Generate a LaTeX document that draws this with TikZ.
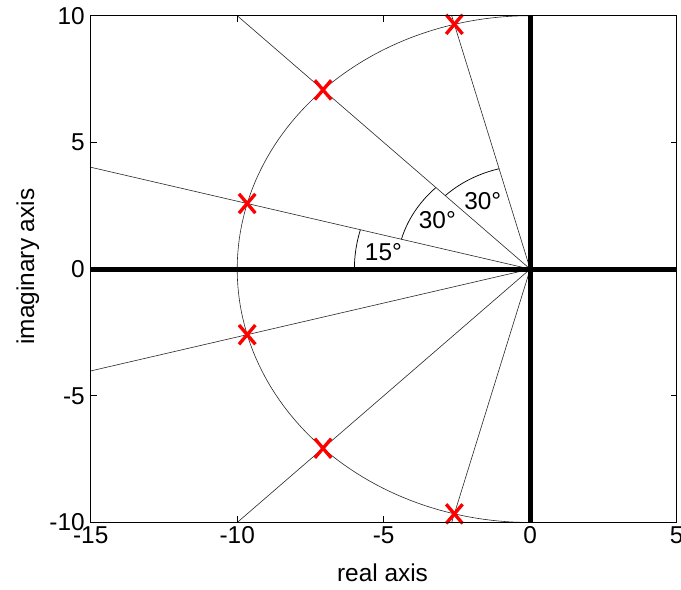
\documentclass[tikz,border=0pt]{standalone}
\usepackage{fontspec}
\setmainfont{Liberation Sans}
\usetikzlibrary{calc}

\begin{document}
\begin{tikzpicture}[
  x=21.98pt,y=19.01pt,
  ray/.style={line width=0.45pt,black!85},
  bigaxis/.style={line width=3.7pt},
  angarc/.style={line width=0.55pt},
  pole/.style={red,line width=2.5pt},
  ticklab/.style={inner sep=1pt},
  font=\fontsize{18.3}{21}\selectfont
]
\useasboundingbox (-18.096,-12.655) rectangle (5.147,10.619);
% rays, circle and the two axes, clipped to the box
\begin{scope}
\clip (-15,-10) rectangle (5,10);
\foreach \a in {105,135,...,255}
  \draw[ray] (0,0) -- (\a:25);
\draw[ray] plot[domain=90:270,samples=120] ({10*cos(\x)},{10*sin(\x)});
\draw[bigaxis] (-15,0) -- (5,0);
\draw[bigaxis] (0,-10) -- (0,10);
\end{scope}
% angle marks
\draw[angarc] plot[domain=165:180,samples=30] ({6*cos(\x)},{6*sin(\x)});
\draw[angarc] plot[domain=135:165,samples=40] ({4.55*cos(\x)},{4.55*sin(\x)});
\draw[angarc] plot[domain=105:135,samples=40] ({4.1*cos(\x)},{4.1*sin(\x)});
\node (a15) at (-5.01,0.69) {15°};
\node (a30a) at (-3.17,1.94) {30°};
\node (a30b) at (-1.62,2.70) {30°};
% poles
\foreach \a in {105,135,...,255} {
  \coordinate (p\a) at (\a:10);
  \draw[pole] ($(p\a)+(-0.28,-0.38)$) -- ($(p\a)+(0.28,0.38)$);
  \draw[pole] ($(p\a)+(-0.28,0.38)$) -- ($(p\a)+(0.28,-0.38)$);
}
% box and ticks
\draw[line width=0.8pt] (-15,-10) rectangle (5,10);
\foreach \t in {-15,-10,...,5} {
  \draw[line width=0.5pt] (\t,-10) -- ++(0,0.26);
  \draw[line width=0.5pt] (\t,10) -- ++(0,-0.26);
  \node[ticklab,anchor=north] (xt\t) at (\t,-10.1) {\t};
}
\foreach \t in {-10,-5,...,10} {
  \draw[line width=0.5pt] (-15,\t) -- ++(0.2,0);
  \draw[line width=0.5pt] (5,\t) -- ++(-0.2,0);
  \node[ticklab,anchor=east] (yt\t) at (-15.15,\t) {\t};
}
\node (xlab) at (-5.04,-11.98) {real axis};
\node[rotate=90] (ylab) at (-17.15,0.1) {imaginary axis};
\end{tikzpicture}
\end{document}
